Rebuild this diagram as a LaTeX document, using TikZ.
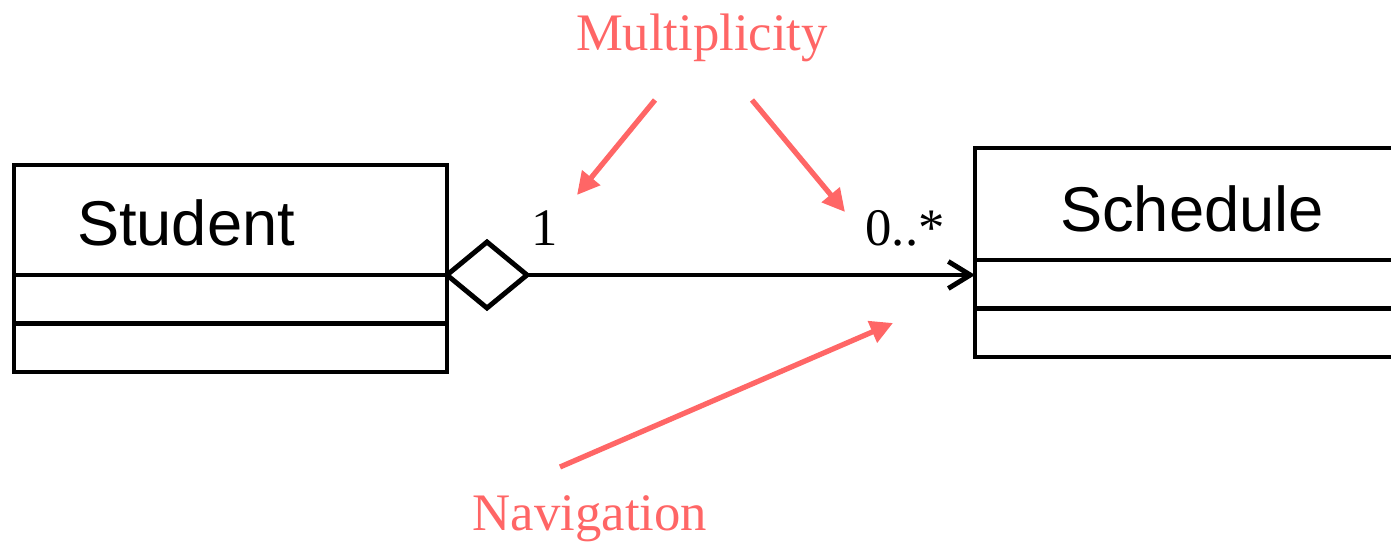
\documentclass[tikz,border=0pt]{standalone}
\usepackage{fontspec}
\setmainfont{Liberation Serif}
\setsansfont{Liberation Sans}
\definecolor{notered}{RGB}{255, 102, 102}
\usetikzlibrary{shapes, arrows.meta, positioning}

\begin{document}
\begin{tikzpicture}[
    classhead/.style={draw, line width=2.8pt, outer sep=0pt, minimum height=2.2cm, align=left, font=\sffamily\fontsize{36}{40}\selectfont},
    compart/.style={draw, line width=2.8pt, outer sep=0pt, minimum height=0.97cm},
    mult/.style={font=\fontsize{30}{34}\selectfont},
    note/.style={text=notered, font=\fontsize{30}{34}\selectfont},
    pointer/.style={draw=notered, line width=3pt, -{Triangle[length=0.45cm, width=0.45cm]}}
  ]
  \path[use as bounding box] (0, 0) rectangle (27.82, 10.86);
  \clip (0, 0) rectangle (27.82, 10.86);

  % Student class
  \node[classhead, text width=6.14cm, inner xsep=1.26cm, text height=1.05cm] (student) at (4.61, 6.46) {Student};
  \node[compart, minimum width=8.66cm, below=0pt of student] (student attr) {};
  \node[compart, minimum width=8.66cm, below=0pt of student attr] (student ops) {};

  % Schedule class
  \node[classhead, minimum height=2.24cm, text width=5.24cm, inner xsep=1.7cm, text height=1.13cm] (schedule) at (23.82, 6.78) {Schedule};
  \node[compart, minimum width=8.64cm, below=0pt of schedule] (schedule attr) {};
  \node[compart, minimum width=8.64cm, below=0pt of schedule attr] (schedule ops) {};

  % aggregation with navigation arrow
  \node[diamond, draw, line width=2.8pt, aspect=1.21, minimum width=1.6cm, minimum height=1.32cm, inner sep=0pt, outer sep=0pt, anchor=west] (agg) at (student.south east) {};
  \draw[line width=2.8pt, -{Straight Barb[length=0.44cm, width=0.54cm]}] (agg.east) -- (agg.east -| schedule.west);

  \node[mult] (one) at (10.9, 6.3) {1};
  \node[mult] (many) at (18.1, 6.3) {0..*};

  % annotations
  \node[note] (multiplicity) at (14.04, 10.1) {Multiplicity};
  \node[note] (navigation) at (11.8, 0.48) {Navigation};

  \coordinate (mult left) at (13.1, 8.86);
  \coordinate (mult right) at (15.04, 8.86);
  \coordinate (one tip) at (11.54, 6.96);
  \coordinate (many tip) at (16.9, 6.62);
  \coordinate (nav start) at (11.2, 1.52);
  \coordinate (nav tip) at (17.86, 4.4);

  \draw[pointer] (mult left) -- (one tip);
  \draw[pointer] (mult right) -- (many tip);
  \draw[pointer] (nav start) -- (nav tip);
\end{tikzpicture}
\end{document}
